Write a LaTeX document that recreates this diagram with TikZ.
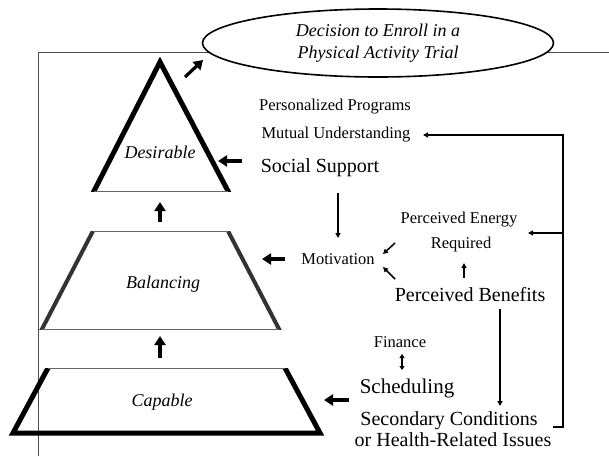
\documentclass[tikz,border=0pt]{standalone}
\usepackage{fontspec}
\setmainfont{Liberation Serif}
\usetikzlibrary{arrows.meta,shapes.geometric,calc}
\begin{document}
\begin{tikzpicture}[x=1pt,y=-1pt,
  small/.style={font=\fontsize{16.5}{20}\selectfont, inner sep=0pt, anchor=base},
  large/.style={font=\fontsize{20}{24}\selectfont, inner sep=0pt, anchor=base},
  level/.style={font=\fontsize{18}{22}\selectfont\itshape, inner sep=0pt, anchor=base},
  frameline/.style={draw=black!70, line width=0.9pt},
  rim/.style={draw=black!60, line width=1pt},
  wall/.style={line width=5pt, line join=miter, line cap=butt},
  greywall/.style={line width=4pt, draw=black!80, line cap=butt},
  push/.style={line width=3.2pt, -{Triangle[length=9pt,width=11pt]}},
  link/.style={line width=1.5pt, -{Triangle[length=5pt,width=5pt]}},
  twoway/.style={line width=1.8pt, {Triangle[length=4pt,width=5pt]}-{Triangle[length=4pt,width=5pt]}},
]
\useasboundingbox (0,0) rectangle (609,456);

% open frame behind everything
\draw[frameline] (38,456) -- (38,52) -- (609,52);

% goal
\node[ellipse, draw, line width=1.6pt, fill=white, minimum width=351pt, minimum height=68pt,
      inner sep=0pt, align=center, font=\fontsize{18}{22}\selectfont\itshape]
  (goal) at (378,43) {Decision to Enroll in a\\Physical Activity Trial};

% ---- Desirable (triangle)
\coordinate (d-a) at (160,62);
\coordinate (d-l) at (94,191);
\coordinate (d-r) at (228,191);
\begin{scope}
  \clip (0,0) rectangle (609,191);
  \draw[wall] ($(d-a)!1.1!(d-l)$) -- (d-a) -- ($(d-a)!1.1!(d-r)$);
\end{scope}
\draw[rim] (d-l) -- (d-r);
\node[level] (desirable) at (160,158) {Desirable};

% ---- Balancing (middle trapezoid)
\coordinate (b-tl) at (93,231);
\coordinate (b-tr) at (228,231);
\coordinate (b-bl) at (42,329);
\coordinate (b-br) at (279,329);
\begin{scope}
  \clip (0,231) rectangle (609,329);
  \draw[greywall] ($(b-tl)!-0.1!(b-bl)$) -- ($(b-tl)!1.1!(b-bl)$);
  \draw[greywall] ($(b-tr)!-0.1!(b-br)$) -- ($(b-tr)!1.1!(b-br)$);
\end{scope}
\draw[rim] (b-tl) -- (b-tr);
\draw[rim] (b-bl) -- (b-br);
\node[level] (balancing) at (163,288) {Balancing};

% ---- Capable (base trapezoid)
\coordinate (c-tl) at (48,368);
\coordinate (c-tr) at (285,368);
\coordinate (c-bl) at (13,433);
\coordinate (c-br) at (320,433);
\begin{scope}
  \clip (0,368) rectangle (609,456);
  \draw[wall] ($(c-bl)!1.1!(c-tl)$) -- (c-bl) -- (c-br) -- ($(c-br)!1.1!(c-tr)$);
\end{scope}
\draw[rim] (c-tl) -- (c-tr);
\node[level] (capable) at (162,406) {Capable};

% ---- factors
\node[small] (pp)  at (335,110) {Personalized Programs};
\node[small] (mu)  at (336,138) {Mutual Understanding};
\node[large] (ss)  at (320,172) {Social Support};
\node[small] (pe1) at (459,223) {Perceived Energy};
\node[small] (pe2) at (461,248) {Required};
\node[small] (mo)  at (338,264) {Motivation};
\node[large] (pb)  at (470,301) {Perceived Benefits};
\node[small] (fi)  at (400,347) {Finance};
\node[font=\fontsize{21}{25}\selectfont, inner sep=0pt, anchor=base] (sc) at (407,393) {Scheduling};
\node[large] (sec1) at (449,425) {Secondary Conditions};
\node[large] (sec2) at (453,446) {or Health-Related Issues};

% ---- upward flow through the levels
\coordinate (up1-s) at (160,358); \coordinate (up1-e) at (160,336);
\coordinate (up2-s) at (160,222); \coordinate (up2-e) at (160,202);
\coordinate (up3-s) at (185,77);  \coordinate (up3-e) at (203,60);
\draw[push] (up1-s) -- (up1-e);
\draw[push] (up2-s) -- (up2-e);
\draw[push] (up3-s) -- (up3-e);

% ---- factors feeding the levels
\coordinate (ss-o) at (242,161); \coordinate (d-in) at (218,161);
\coordinate (mo-o) at (285,259); \coordinate (b-in) at (262,259);
\coordinate (sc-o) at (349,400); \coordinate (c-in) at (324,400);
\draw[push] (ss-o) -- (d-in);
\draw[push] (mo-o) -- (b-in);
\draw[push] (sc-o) -- (c-in);

% ---- links among factors
\coordinate (ss-d) at (338,193); \coordinate (mo-u) at (338,238);
\draw[link] (ss-d) -- (mo-u);
\coordinate (pe-o) at (395,243); \coordinate (mo-a) at (383,254);
\coordinate (pb-o) at (395,279); \coordinate (mo-b) at (383,267);
\draw[link] (pe-o) -- (mo-a);
\draw[link] (pb-o) -- (mo-b);
\coordinate (pb-u) at (464,278); \coordinate (pe-u) at (464,263);
\draw[link] (pb-u) -- (pe-u);
\coordinate (pb-d) at (500,309); \coordinate (sec-u) at (500,406);
\draw[link] (pb-d) -- (sec-u);
\coordinate (fi-d) at (402,354); \coordinate (sc-u) at (402,370);
\draw[twoway] (fi-d) -- (sc-u);

% ---- feedback bracket from secondary conditions
\coordinate (sec-r) at (553,427);
\coordinate (bk-bot) at (563,427);
\coordinate (bk-mid) at (563,233);
\coordinate (bk-top) at (563,135);
\coordinate (mu-in) at (423,135);
\coordinate (pe-in) at (528,233);
\draw[link, line join=miter] (sec-r) -- (bk-bot) -- (bk-top) -- (mu-in);
\draw[link] (bk-mid) -- (pe-in);
\end{tikzpicture}
\end{document}
